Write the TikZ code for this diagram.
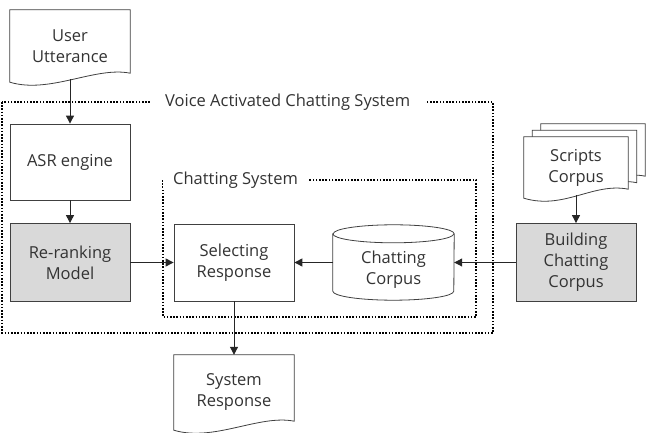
\documentclass[tikz,border=0pt]{standalone}
\usepackage{fontspec}
\setmainfont{Open Sans}
\usetikzlibrary{arrows.meta,backgrounds}

% document outline with a wavy bottom, drawn round a named node
\newcommand{\wavedoc}[1]{%
  \draw[DOC] (#1.north west) -- (#1.north east) -- ([yshift=9pt]#1.south east)
    .. controls ([xshift=-35pt,yshift=16pt]#1.south east) and ([xshift=40pt,yshift=-12pt]#1.south west)
    .. (#1.south west) -- cycle;}

\begin{document}
\begin{tikzpicture}[x=1pt, y=1pt, font=\fontsize{16.5}{21}\selectfont]
      \tikzstyle{BOX} = [draw=black!75, fill=white, rectangle, minimum height=77pt, minimum width=120pt, align=center, text=black!80, line width=0.8pt]
      \tikzstyle{GRAYBOX} = [BOX, fill=black!15]
      \tikzstyle{TXT} = [rectangle, align=center, text=black!80, minimum width=120pt]
      \tikzstyle{DOC} = [draw=black!75, fill=white, line width=0.8pt]
      \tikzstyle{FRAME} = [line width=1.6pt, dash pattern=on 1.6pt off 1.6pt]
      \tikzstyle{TITLE} = [fill=white, text=black!80, inner ysep=2pt, anchor=west]
      \tikzstyle{ARR} = [-{Triangle[length=8pt,width=8pt]}, line width=1pt, black!85]

      \useasboundingbox (0,0) rectangle (647,433);

      %%%%% FRAMES

      \draw[FRAME] (2,331) rectangle (493,100);
      \node[TITLE, inner xsep=15pt](t1) at (150,331) {Voice Activated Chatting System};
      \draw[FRAME] (163,253) rectangle (476,116);
      \node[TITLE, inner xsep=10pt](t2) at (163,253) {Chatting System};

      %%%%% VERTEX

      \node[TXT, minimum height=72pt](usr) at (70,387) {User\\Utterance};
      \node[BOX, minimum height=76pt](asr) at (70,271) {ASR engine};
      \node[GRAYBOX, minimum height=78pt](rer) at (70,170.5) {Re-ranking\\Model};
      \node[BOX](sel) at (234,170.5) {Selecting\\Response};
      \node[draw=none, minimum height=75pt, minimum width=121pt](cor) at (393.5,170.5) {};
      \node[GRAYBOX, minimum height=78pt](bld) at (576,170.5) {Building\\Chatting\\Corpus};

      \node[TXT, minimum width=104pt, minimum height=61pt](scrc) at (593,278.5) {};
      \node[TXT, minimum width=104pt, minimum height=61pt](scrb) at (584.5,272) {};
      \node[TXT, minimum width=104pt, minimum height=61pt](scr) at (576,265.5) {Scripts\\Corpus};

      \node[TXT, minimum height=75pt](sys) at (234,40.5) {System\\Response};

      % outlines behind the texts
      \begin{scope}[on background layer]
        \wavedoc{usr}
        \wavedoc{scrc}
        \wavedoc{scrb}
        \wavedoc{scr}
        \wavedoc{sys}
      \end{scope}

      % cylinder
      \draw[DOC] ([yshift=-9pt]cor.north west) -- ([yshift=9pt]cor.south west)
        arc[start angle=180, end angle=360, x radius=60.5pt, y radius=9pt]
        -- ([yshift=-9pt]cor.north east)
        arc[start angle=0, end angle=180, x radius=60.5pt, y radius=9pt] -- cycle;
      \draw[DOC, fill=none] ([yshift=-9pt]cor.north west)
        arc[start angle=180, end angle=360, x radius=60.5pt, y radius=9pt];
      \node[TXT](cort) at ([yshift=-7pt]cor.center) {Chatting\\Corpus};

      %%%%% EDGES

      \draw[ARR, shorten <=-3pt]  (usr) -- (asr);
      \draw[ARR]  (asr) -- (rer);
      \draw[ARR]  (rer) -- (sel);
      \draw[ARR]  (cor) -- (sel);
      \draw[ARR]  (bld) -- (cor);
      \draw[ARR, shorten <=-3pt]  (scr) -- (bld);
      \draw[ARR]  (sel) -- (sys);
\end{tikzpicture}
\end{document}
